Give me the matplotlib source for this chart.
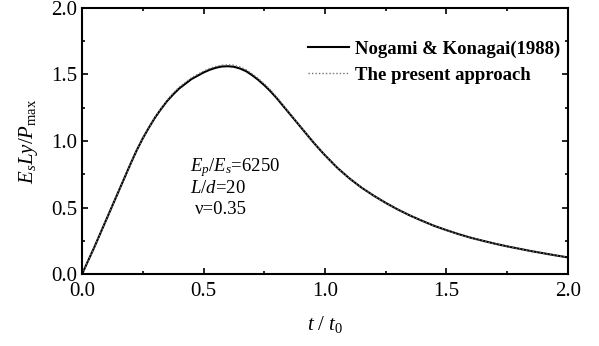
import numpy as np
import matplotlib.pyplot as plt

t = [0.00, 0.05, 0.10, 0.15, 0.20, 0.225, 0.25, 0.275, 0.30, 0.325,
     0.35, 0.375, 0.40, 0.425, 0.45, 0.475, 0.50, 0.525, 0.55, 0.575,
     0.60, 0.625, 0.65, 0.675, 0.70, 0.725, 0.75, 0.775, 0.80, 0.825,
     0.85, 0.875, 0.90, 0.925, 0.95, 0.975, 1.00, 1.05, 1.10, 1.15,
     1.20, 1.25, 1.30, 1.35, 1.40, 1.45, 1.50, 1.55, 1.60, 1.65,
     1.70, 1.75, 1.80, 1.85, 1.90, 1.95, 2.00]
nogami = [0.00, 0.20, 0.41, 0.62, 0.83, 0.93, 1.02, 1.10, 1.175, 1.24,
          1.30, 1.35, 1.395, 1.43, 1.465, 1.49, 1.515, 1.535, 1.55, 1.56,
          1.562, 1.558, 1.545, 1.525, 1.495, 1.46, 1.42, 1.375, 1.325, 1.27,
          1.215, 1.16, 1.105, 1.05, 0.995, 0.943, 0.893, 0.80, 0.72, 0.65,
          0.59, 0.535, 0.485, 0.44, 0.40, 0.362, 0.33, 0.30, 0.273, 0.25,
          0.228, 0.208, 0.19, 0.172, 0.156, 0.14, 0.125]
present = [0.00, 0.20, 0.41, 0.62, 0.83, 0.93, 1.02, 1.10, 1.18, 1.245,
           1.305, 1.36, 1.405, 1.44, 1.475, 1.50, 1.525, 1.545, 1.56, 1.57,
           1.573, 1.57, 1.557, 1.537, 1.505, 1.47, 1.43, 1.385, 1.332, 1.276,
           1.22, 1.163, 1.107, 1.052, 0.997, 0.944, 0.893, 0.80, 0.72, 0.65,
           0.59, 0.535, 0.485, 0.44, 0.40, 0.362, 0.33, 0.30, 0.273, 0.25,
           0.228, 0.208, 0.19, 0.172, 0.156, 0.14, 0.125]

plt.rcParams['font.family'] = ['Liberation Serif', 'DejaVu Serif']
plt.rcParams['mathtext.fontset'] = 'custom'
plt.rcParams['mathtext.rm'] = 'Liberation Serif'
plt.rcParams['mathtext.it'] = 'Liberation Serif:italic'
plt.rcParams['mathtext.bf'] = 'Liberation Serif:bold'

fig = plt.figure(figsize=(5.99, 3.46), dpi=100)
ax = fig.add_axes([0.137, 0.208, 0.811, 0.769])

ax.plot(t, nogami, color='k', lw=1.5, label='Nogami & Konagai(1988)')
ax.plot(t, present, color='0.45', lw=1.0, ls=(0, (1, 1.5)), label='The present approach')

ax.set_xlim(0, 2.0)
ax.set_ylim(0, 2.0)
ax.set_xticks([0.0, 0.5, 1.0, 1.5, 2.0])
ax.set_yticks([0.0, 0.5, 1.0, 1.5, 2.0])
ax.set_xticks(np.arange(0, 2.01, 0.25), minor=True)
ax.set_yticks(np.arange(0, 2.01, 0.25), minor=True)
ax.tick_params(which='both', direction='in', top=True, right=True, labelsize=15, width=1.2)
ax.tick_params(which='major', length=4)
ax.tick_params(which='minor', length=2.5)
ax.tick_params(axis='x', pad=6)
for s in ax.spines.values():
    s.set_linewidth(1.5)

ax.set_xlabel(r'$t\ /\ t_0$', fontsize=15, labelpad=9)
ax.set_ylabel(r'$E_sLy/P_{\rm max}$', fontsize=15, labelpad=8)

ax.legend(loc='upper right', frameon=False, prop={'size': 13.5, 'weight': 'bold'},
          handlelength=2.2, handletextpad=0.35, labelspacing=0.45,
          bbox_to_anchor=(1.02, 0.94))

ax.text(0.445, 0.77, r'$E_p/E_s$=6250', fontsize=13.5)
ax.text(0.445, 0.61, r'$L/d$=20', fontsize=13.5)
ax.text(0.465, 0.45, r'ν=0.35', fontsize=13.5)

plt.savefig('out.png', dpi=100)
